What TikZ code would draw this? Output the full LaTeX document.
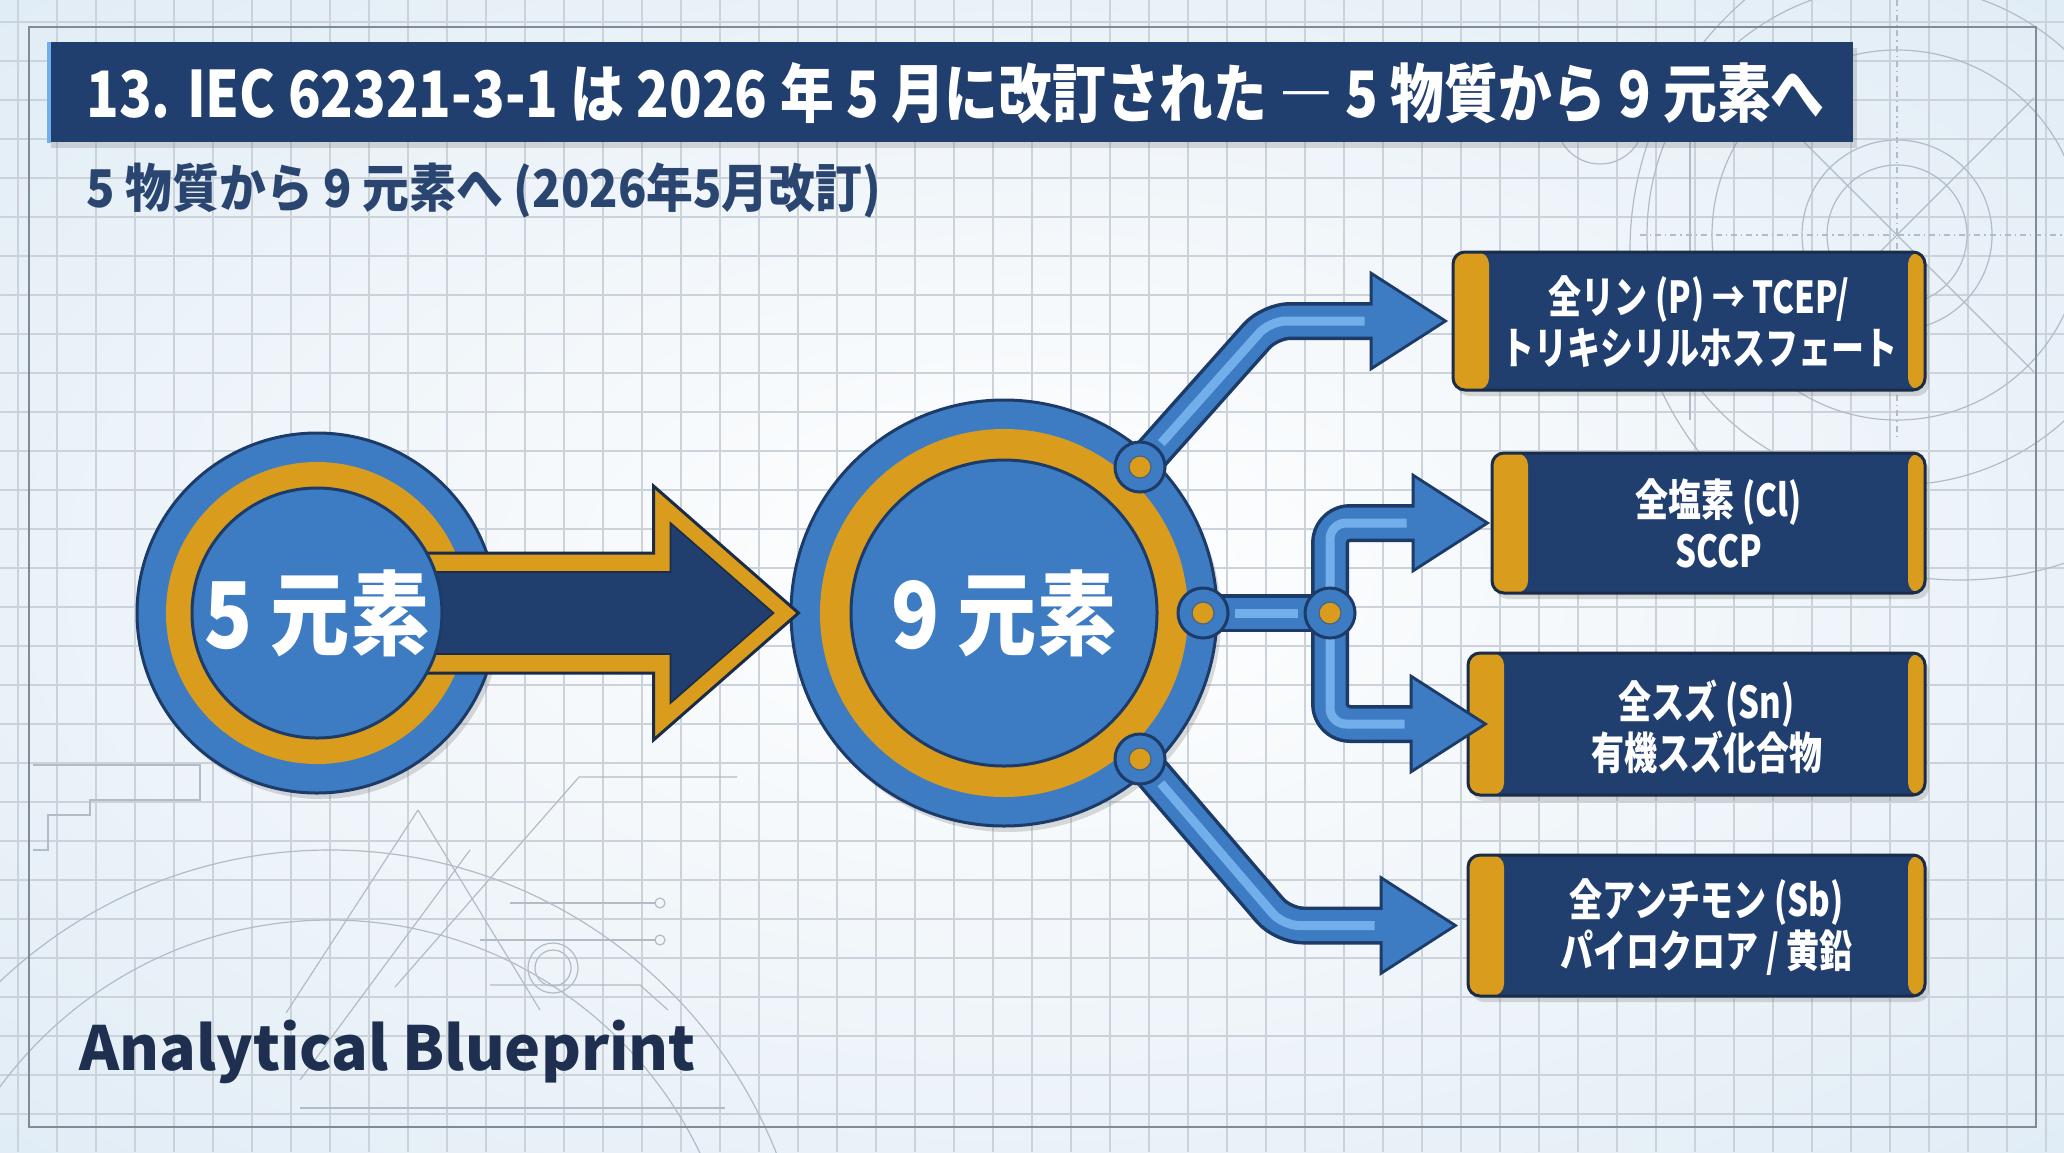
\documentclass[tikz,border=0pt]{standalone}
\usepackage{fontspec}
\usetikzlibrary{calc,shadows}
\newfontfamily\jpT{Noto Sans CJK JP}[FakeStretch=0.84]
\newfontfamily\jpS{Noto Sans CJK JP}[FakeStretch=0.9]
\newfontfamily\jpC{Noto Sans CJK JP}[FakeStretch=0.75]
\newfontfamily\jpX{Noto Sans CJK JP}[FakeStretch=0.86]
\newfontfamily\jpL{Noto Sans CJK JP}
\definecolor{navy}{HTML}{213F6E}
\definecolor{navydk}{HTML}{1A2C48}
\definecolor{cblue}{HTML}{3D7CC2}
\definecolor{cbluedk}{HTML}{1C3B68}
\definecolor{clight}{HTML}{72AEEA}
\definecolor{gold}{HTML}{D99C1D}
\definecolor{gridc}{HTML}{CBD2DA}
\definecolor{bgedge}{HTML}{D8E7F3}
\definecolor{bgmid}{HTML}{F4F8FB}
\definecolor{txtdk}{HTML}{1E2F50}
\definecolor{subc}{HTML}{2A4670}
\definecolor{deco}{HTML}{B2BCC6}
\definecolor{framec}{HTML}{7F8B96}
\pgfdeclareradialshading{bgsh}{\pgfpoint{0bp}{0bp}}{color(0bp)=(white); color(14bp)=(bgmid); color(45bp)=(bgedge); color(75bp)=(bgedge)}
\begin{document}
\begin{tikzpicture}[x=0.5pt,y=-0.5pt,
  gridline/.style={draw=gridc, line width=0.75pt},
  decoline/.style={draw=deco, line width=0.6pt},
  ring/.style={circle, inner sep=0pt},
  shadowed/.style={drop shadow={opacity=0.28, shadow xshift=2pt, shadow yshift=-3pt}},
  boxnode/.style={rectangle, rounded corners=6pt, fill=navy, draw=navydk, line width=1.5pt, inner sep=0pt, shadowed,
     path picture={
       \fill[gold] (path picture bounding box.north west) rectangle ([xshift=18pt]path picture bounding box.south west);
       \fill[gold] ([xshift=-8.5pt]path picture bounding box.north east) rectangle (path picture bounding box.south east);}},
  boxtext/.style={align=center, text=white, font=\jpC\bfseries\fontsize{22}{25.5}\selectfont, inner sep=0pt},
  circtext/.style={text=white, font=\jpX\bfseries\fontsize{46}{50}\selectfont, inner sep=0pt},
  dotnode/.style={circle, inner sep=0pt, fill=cblue, draw=cbluedk, line width=1.5pt, minimum size=25pt},
  dotcore/.style={circle, inner sep=0pt, fill=gold, draw=cbluedk!80, line width=0.6pt, minimum size=11pt},
  shaftdk/.style={draw=cbluedk, line width=19pt, line join=round, rounded corners=10pt},
  shaftbl/.style={draw=cblue, line width=15.5pt, line join=round, rounded corners=10pt},
  stripe/.style={draw=clight, line width=4.5pt, rounded corners=8pt},
]
\useasboundingbox (0,0) rectangle (2064,1152);
\shade[shading=bgsh] (0,0) rectangle (2064,1152);
% grid
\foreach \gx in {18,57,...,2064} {\draw[gridline] (\gx,0) -- (\gx,1152);}
\foreach \gy in {22,61,...,1152} {\draw[gridline] (0,\gy) -- (2064,\gy);}
% faint technical drawing
\begin{scope}
\clip (0,0) rectangle (2064,1152);
\draw[decoline] (1897,235) circle [radius=35pt];
\draw[decoline] (1897,235) circle [radius=47.5pt];
\draw[decoline] (1897,235) circle [radius=92.5pt];
\draw[decoline] (1897,235) circle [radius=125pt];
\draw[decoline] (1960,250) circle [radius=165pt];
\draw[decoline] (1600,120) circle [radius=22pt];
\draw[decoline, dash dot] (1640,235) -- (2064,235);
\draw[decoline, dash dot] (1897,0) -- (1897,440);
\draw[decoline] (1760,98) -- (2034,372);
\draw[decoline] (1760,372) -- (2034,98);
\draw[decoline] (1690,130) -- (1690,420);
\draw[decoline] (330,1330) circle [radius=240pt];
\draw[decoline] (330,1330) circle [radius=205pt];
\draw[decoline] (395,987) -- (579,777) -- (737,777);
\draw[decoline] (418,810) -- (286,1013);
\draw[decoline] (418,810) -- (540,1010);
\draw[decoline] (300,1080) -- (470,850);
\draw[decoline] (553,968) circle [radius=12.5pt];
\draw[decoline] (553,968) circle [radius=9pt];
\draw[decoline] (510,903) -- (655,903);
\draw[decoline] (660,903) circle [radius=2.5pt];
\draw[decoline] (480,940) -- (655,940);
\draw[decoline] (660,940) circle [radius=2.5pt];
\draw[decoline] (490,985) -- (640,985) -- (668,1010);
\draw[decoline] (33,765) -- (200,765) -- (200,800) -- (90,800) -- (90,815) -- (48,815) -- (48,850) -- (33,850);
\draw[decoline] (300,1108) -- (725,1108);
\end{scope}
% frame
\draw[draw=framec, line width=1pt] (29,27) rectangle (2036,1127);
% title
\node[anchor=north west, fill=navy, minimum width=903pt, minimum height=50pt, inner sep=0pt, shadowed] (tbar) at (47,42) {};
\fill[clight] (tbar.north west) rectangle ([xshift=2pt]tbar.south west);
\node[anchor=west, text=white, font=\jpT\bfseries\fontsize{32}{36}\selectfont, inner sep=0pt] (ttl) at (86,93) {13. IEC 62321-3-1 は 2026 年 5 月に改訂された ― 5 物質から 9 元素へ};
\node[anchor=west, text=subc, font=\jpS\bfseries\fontsize{26}{30}\selectfont, inner sep=0pt] (sub) at (86,190) {5 物質から 9 元素へ (2026年5月改訂)};
\node[anchor=base west, text=txtdk, font=\jpL\bfseries\fontsize{30.4}{36}\selectfont, inner sep=0pt] (foot) at (79,1070) {Analytical Blueprint};
% boxes
\node[boxnode, minimum width=236pt, minimum height=69pt] (b1) at (1689,321) {};
\node[boxnode, minimum width=216.5pt, minimum height=70pt] (b2) at (1708.5,523) {};
\node[boxnode, minimum width=228.5pt, minimum height=71pt] (b3) at (1696.5,724) {};
\node[boxnode, minimum width=228.5pt, minimum height=70.5pt] (b4) at (1696.5,925.5) {};
\node[boxtext] (b1t) at ($(b1.center)+(10,1)$) {全リン (P) → TCEP/\\トリキシリルホスフェート};
\node[boxtext] (b2t) at ($(b2.center)+(10,0)$) {全塩素 (Cl)\\SCCP};
\node[boxtext] (b3t) at ($(b3.center)+(10,3)$) {全スズ (Sn)\\有機スズ化合物};
\node[boxtext] (b4t) at ($(b4.center)+(10,2)$) {全アンチモン (Sb)\\パイロクロア / 黄鉛};
% connector geometry
\coordinate (c9c) at (1004,613);
\coordinate (d1) at ($(c9c)+(136,-146)$);
\coordinate (d2) at ($(c9c)+(199,0)$);
\coordinate (d2b) at ($(d2)+(127,0)$);
\coordinate (d3) at ($(c9c)+(136,146)$);
\coordinate (t1) at ($(b1.west)+(-9,0)$);
\coordinate (t2) at ($(b2.west)+(-6,0)$);
\coordinate (t3) at ($(b3.west)+(16,0)$);
\coordinate (t4) at ($(b4.west)+(-14,0)$);
\coordinate (k1x) at ($(d1)+(130,0)$);
\coordinate (k1) at (k1x |- t1);
\coordinate (k2a) at (d2b |- t2);
\coordinate (k2b) at (d2b |- t3);
\coordinate (k3x) at ($(d3)+(143,0)$);
\coordinate (k3) at (k3x |- t4);
% dark layer
\foreach \tp in {t1,t2,t3,t4} {\filldraw[cbluedk, line width=3pt, line join=miter] (\tp) -- ++(-70,-45) -- ++(0,90) -- cycle;}
\draw[shaftdk] (d1) -- (k1) -- ($(t1)+(-60,0)$);
\draw[shaftdk] (d2) -- (d2b);
\draw[shaftdk] ($(t2)+(-60,0)$) -- (k2a) -- (k2b) -- ($(t3)+(-60,0)$);
\draw[shaftdk] (d3) -- (k3) -- ($(t4)+(-60,0)$);
% blue layer
\draw[shaftbl] (d1) -- (k1) -- ($(t1)+(-60,0)$);
\draw[shaftbl] (d2) -- (d2b);
\draw[shaftbl] ($(t2)+(-60,0)$) -- (k2a) -- (k2b) -- ($(t3)+(-60,0)$);
\draw[shaftbl] (d3) -- (k3) -- ($(t4)+(-60,0)$);
\foreach \tp in {t1,t2,t3,t4} {\fill[cblue] (\tp) -- ++(-70,-45) -- ++(0,90) -- cycle;}
% stripes
\draw[stripe, shorten <=16pt] (d1) -- (k1) -- ($(t1)+(-78,0)$);
\draw[stripe, shorten <=16pt, shorten >=16pt] (d2) -- (d2b);
\draw[stripe] ($(t2)+(-78,0)$) -- (k2a) -- (k2b) -- ($(t3)+(-78,0)$);
\draw[stripe, shorten <=16pt] (d3) -- (k3) -- ($(t4)+(-78,0)$);
% circles
\node[ring, fill=cblue, draw=cbluedk, line width=1.5pt, minimum size=180pt, shadowed] (c5) at (317,613) {};
\node[ring, fill=gold, minimum size=151pt] (c5y) at (c5) {};
\node[ring, fill=cblue, draw=cbluedk, line width=1.5pt, minimum size=213pt, shadowed] (c9) at (c9c) {};
\node[ring, fill=gold, minimum size=184pt] (c9y) at (c9) {};
\node[ring, fill=cblue, draw=cbluedk, line width=1.5pt, minimum size=153pt] (c9i) at (c9) {};
% big arrow
\coordinate (atip) at ($(c9.west)+(9,0)$);
\filldraw[fill=gold, draw=navydk, line width=1.5pt, line join=miter] (atip) -- ++(-145,-127) -- ++(0,67) -- ($(c5.center)+(100,-60)$) -- ($(c5.center)+(100,60)$) -- ($(atip)+(-145,60)$) -- ++(0,67) -- cycle;
\filldraw[fill=navy, draw=navydk, line width=0.8pt] ($(atip)+(-25,0)$) -- ($(atip)+(-128,-90)$) -- ($(atip)+(-128,-41)$) -- ($(c5.center)+(100,-41)$) -- ($(c5.center)+(100,41)$) -- ($(atip)+(-128,41)$) -- ($(atip)+(-128,90)$) -- cycle;
\node[ring, fill=cblue, draw=cbluedk, line width=1.5pt, minimum size=125pt] (c5i) at (c5) {};
\node[circtext] (c5t) at (c5) {5 元素};
\node[circtext] (c9t) at (c9) {9 元素};
% dots
\foreach \dd in {d1,d2,d2b,d3} {\node[dotnode] (\dd-n) at (\dd) {}; \node[dotcore] (\dd-y) at (\dd) {};}
\end{tikzpicture}
\end{document}
